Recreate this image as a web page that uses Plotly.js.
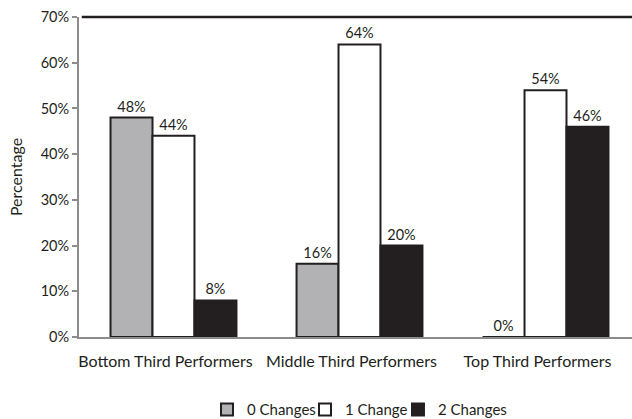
<!DOCTYPE html>
<html><head><meta charset="utf-8">
<script src="https://cdn.plot.ly/plotly-3.0.1.min.js"></script>
<style>html,body{margin:0;padding:0;background:#fff}#chart{width:632px;height:419px}</style>
</head><body><div id="chart"></div>
<script>
const categories = ["Bottom Third Performers", "Middle Third Performers", "Top Third Performers"];
const seriesNames = ["0 Changes", "1 Change", "2 Changes"];
const zeroChanges = [48, 16, 0];
const oneChange = [44, 64, 54];
const twoChanges = [8, 20, 46];
const yTicks = [0, 10, 20, 30, 40, 50, 60, 70];

const fills = ["#b2b2b4", "#ffffff", "#231f20"];
const values = [zeroChanges, oneChange, twoChanges];
const legendIds = ["legend", "legend2", "legend3"];
const legendX = [0.3275, 0.4826, 0.6297];
const font = {family: "Lato, sans-serif", size: 14.5, color: "#231f20"};
const bigFont = {family: "Lato, sans-serif", size: 16, color: "#231f20"};
const legFont = {family: "Lato, sans-serif", size: 15, color: "#231f20"};

const traces = values.map((v, i) => ({
  type: "bar", name: seriesNames[i], x: categories, y: v, legend: legendIds[i],
  marker: {color: fills[i], line: {color: "#231f20", width: 2}},
  text: v.map(d => d + "%"), textposition: "outside", cliponaxis: false,
  textfont: font
}));

const layout = {
  width: 632, height: 419,
  margin: {l: 79, r: 0, t: 17, b: 82, autoexpand: false},
  paper_bgcolor: "#fff", plot_bgcolor: "#fff",
  font: font,
  barmode: "group", bargap: 0.323, bargroupgap: 0,
  showlegend: true,
  xaxis: {type: "category", range: [-0.508, 2.465], showline: true, linecolor: "#8c8c8c", linewidth: 2,
          ticks: "", tickfont: bigFont, automargin: false, ticklabelshift: -8, ticklabelstandoff: 9},
  yaxis: {range: [0, 70], tickvals: yTicks, ticktext: yTicks.map(t => t + "%"), automargin: false,
          showgrid: false, zeroline: false, showline: true, linecolor: "#8c8c8c", linewidth: 2,
          ticks: "outside", ticklen: 5, tickcolor: "#8c8c8c", tickwidth: 2, tickfont: font,
          title: {text: "Percentage", font: bigFont, standoff: 14}},
  shapes: [{type: "line", xref: "paper", yref: "paper", x0: 0.005, x1: 1, y0: 1, y1: 1,
            line: {color: "#231f20", width: 2.5}}]
};
legendIds.forEach((id, i) => {
  layout[id] = {orientation: "h", xref: "container", x: legendX[i], xanchor: "left",
                yref: "container", y: 0.022, yanchor: "middle", font: legFont, itemwidth: 30,
                bgcolor: "rgba(0,0,0,0)"};
});
Plotly.newPlot("chart", traces, layout, {staticPlot: true});
</script></body></html>
